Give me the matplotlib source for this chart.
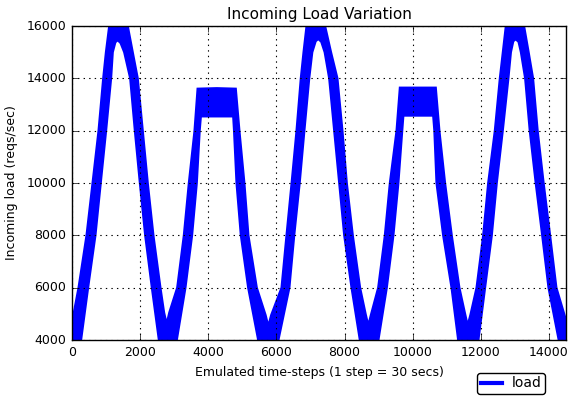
import numpy as np
import matplotlib
matplotlib.use('Agg')
import matplotlib.pyplot as plt
from matplotlib.lines import Line2D

# Envelope of the noisy load band (time-step, reqs/sec)
upper_steps = [0, 196, 430, 607, 783, 920, 1000, 1096, 1380, 1634, 1780, 1927, 2074, 2221, 2387, 2593, 2700, 2779, 2860,
               3092, 3287, 3434, 3600, 3690, 4250, 4805, 4911, 5057, 5175, 5421, 5680, 5762, 5850,
               6154, 6300, 6450, 6594, 6720, 6800, 6888, 7150, 7426, 7600, 7788, 7935, 8063, 8239, 8453, 8620, 8697, 8780,
               8991, 9187, 9334, 9530, 9627, 10150, 10675, 10781, 10947, 11144, 11368, 11540, 11614, 11700,
               11878, 12073, 12220, 12415, 12562, 12650, 12738, 13000, 13266, 13400, 13530, 13665, 13840, 14030, 14215, 14500]
upper_load = [4650, 6000, 8000, 10000, 12000, 14000, 15000, 16000, 16900, 16000, 15000, 14000, 12000, 10000, 8000, 6000, 5050, 4600, 5050,
              6000, 8000, 10000, 12000, 13600, 13620, 13600, 12000, 10000, 8000, 6000, 4950, 4520, 4950,
              6000, 8000, 10000, 12000, 14000, 15000, 16000, 16900, 16000, 15000, 14000, 12000, 10000, 8000, 6000, 4970, 4547, 4970,
              6000, 8000, 10000, 12000, 13640, 13640, 13640, 12000, 10000, 8000, 6000, 4970, 4547, 4970,
              6000, 8000, 10000, 12000, 14000, 15000, 16000, 16900, 16000, 15000, 14000, 12000, 10000, 8000, 6000, 4750]

lower_steps = [0, 264, 470, 685, 841, 998, 1145, 1194, 1270, 1341, 1430, 1536, 1712, 1849, 1996, 2152, 2348, 2554, 2780,
               3073, 3327, 3522, 3660, 3745, 3780, 4250, 4735, 4760, 4833, 4960, 5175, 5469, 5762,
               6056, 6378, 6520, 6680, 6818, 6960, 7050, 7150, 7229, 7320, 7420, 7553, 7700, 7847, 7994, 8209, 8453, 8697,
               8991, 9237, 9431, 9577, 9690, 9724, 10150, 10605, 10640, 10703, 10898, 11144, 11339, 11614,
               11926, 12122, 12319, 12465, 12641, 12806, 12880, 12950, 13022, 13110, 13180, 13305, 13440, 13615, 13805, 13990, 14290, 14500]
lower_load = [3300, 4000, 6000, 8000, 10000, 12000, 14000, 15000, 15380, 15465, 15350, 15000, 14000, 12000, 10000, 8000, 6000, 4000, 3200,
              4000, 6000, 8000, 10000, 12000, 12550, 12550, 12550, 12000, 10000, 8000, 6000, 4000, 3200,
              4000, 6000, 8000, 10000, 12000, 14000, 15000, 15420, 15510, 15400, 15000, 14000, 12000, 10000, 8000, 6000, 4000, 3200,
              4000, 6000, 8000, 10000, 12000, 12580, 12580, 12580, 12000, 10000, 8000, 6000, 4000, 3200,
              4000, 6000, 8000, 10000, 12000, 14000, 15000, 15420, 15500, 15400, 15000, 14000, 12000, 10000, 8000, 6000, 4000, 3500]

plt.style.use('classic')
plt.rcParams['font.family'] = 'DejaVu Sans'
plt.rcParams['font.size'] = 9
plt.rcParams['figure.facecolor'] = 'white'
plt.rcParams['savefig.facecolor'] = 'white'

fig = plt.figure(figsize=(5.69, 3.96), dpi=100)
ax = fig.add_axes([0.1265, 0.1414, 0.8682, 0.7929])

band_x = np.concatenate([upper_steps, lower_steps[::-1]])
band_y = np.concatenate([upper_load, lower_load[::-1]])
ax.fill(band_x, band_y, color='blue', edgecolor='blue', lw=1.7)

ax.set_xlim(0, 14500)
ax.set_ylim(4000, 16000)
ax.set_xticks(range(0, 14001, 2000))
ax.set_yticks(range(4000, 16001, 2000))
ax.grid(True, linestyle=':', color='black', linewidth=0.8)
ax.set_axisbelow(False)

ax.set_title('Incoming Load Variation', fontsize=11)
ax.set_xlabel('Emulated time-steps (1 step = 30 secs)')
ax.set_ylabel('Incoming load (reqs/sec)', labelpad=6)

proxy = Line2D([], [], color='blue', lw=3, label='load')
ax.legend(handles=[proxy], loc='upper center', bbox_to_anchor=(0.889, -0.105),
          borderaxespad=0, fancybox=True, handlelength=1.5, handletextpad=0.7,
          borderpad=0.25, fontsize=10, frameon=True, numpoints=1)

fig.savefig('out.png', dpi=100)
